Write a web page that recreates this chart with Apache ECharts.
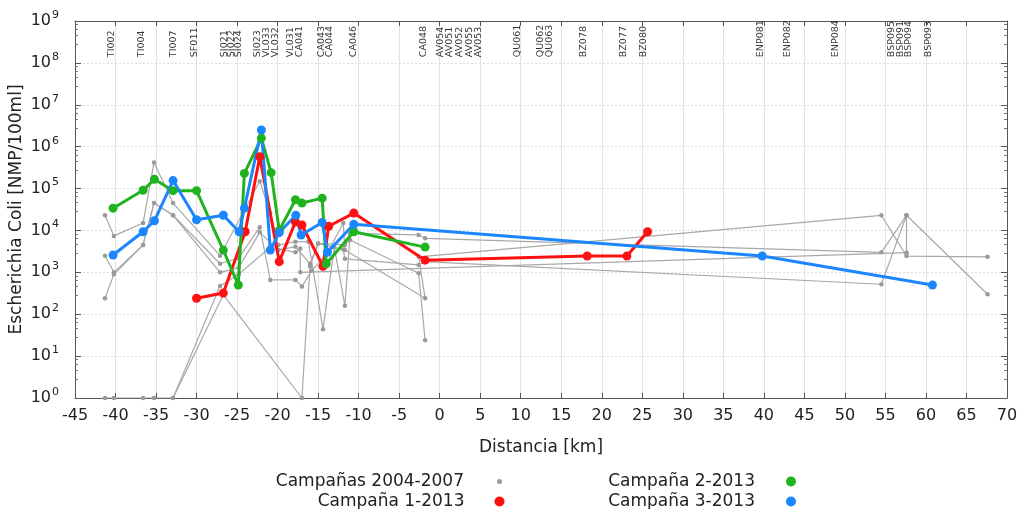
<!DOCTYPE html>
<html>
<head>
<meta charset="utf-8">
<title>Escherichia Coli vs Distancia</title>
<script src="https://cdn.jsdelivr.net/npm/echarts@6/dist/echarts.min.js"></script>
<style>
  html, body { margin: 0; padding: 0; background: #ffffff; }
  #chart { width: 1024px; height: 509px; }
</style>
</head>
<body>
<div id="chart"></div>
<script>
// Sampling stations along the river (km)
const stationNames = ['TI002','TI004','TI007','SF011','SI021','SI022','SI024','SI023','VL033','VL032','VL031','CA041','CA043','CA044','CA046','CA048','AV054','AV051','AV052','AV055','AV053','QU061','QU062','QU063','BZ078','BZ077','BZ080','ENP081','ENP082','ENP084','BSP095','BSP091','BSP094','BSP093'];
const stationKm = [-40.5,-36.8,-32.9,-30.2,-26.6,-25.7,-24.8,-22.5,-21.4,-20.3,-18.4,-17.3,-14.6,-13.6,-10.6,-2.0,0.1,1.2,2.4,3.7,4.8,9.6,12.4,13.6,17.8,22.7,25.2,39.6,42.9,48.8,55.8,56.9,57.9,60.3];

// Historical campaigns 2004-2007: [km, NMP/100ml]
const hist1 = [[-41.3,23000],[-40.2,7400],[-36.6,15000],[-35.25,420000],[-32.9,45000],[-27.1,2500],[-22.2,150000],[-20.9,26000],[-19.9,4500],[-17.8,5400],[-16.2,5400],[-14.4,44],[-13.0,4000],[-11.7,160],[-11.05,8500],[-2.6,7800],[-1.8,6500],[54.5,3000],[57.6,23000],[67.6,300]];
const hist2 = [[-41.3,2500],[-40.2,1000],[-36.6,4500],[-35.25,45000],[-32.9,23000],[-27.1,1600],[-24.8,2200],[-22.2,12000],[-20.9,660],[-17.8,660],[-17.0,460],[-15.8,1100],[-14.0,2600],[-11.9,15000],[-11.7,3400],[-1.8,240],[-2.6,2350],[54.5,23000],[57.6,2450],[67.6,2350]];
const hist3 = [[-41.3,240],[-40.2,900],[-36.6,4500],[-35.25,45000],[-32.9,23000],[-27.1,1000],[-24.8,1300],[-22.2,9000],[-19.9,3400],[-17.8,4100],[-16.0,1600],[-15.0,4900],[-11.7,4500],[-11.05,5900],[-2.6,950],[-1.8,24]];
const hist4 = [[-41.3,1],[-40.2,1],[-36.6,1],[-35.25,1],[-32.9,1],[-27.1,470],[-24.8,900],[-20.9,4000],[-17.8,3000],[-17.2,3700],[-17.2,1000],[57.6,2950]];
const hist5 = [[-32.9,1],[-26.7,290],[-17.0,1],[-16.0,1400],[-15.0,4900],[-11.9,3500],[-11.7,2100],[-2.6,1500],[-1.8,1800],[54.5,520],[57.6,23000],[57.6,2900]];

// 2013 campaigns
const camp1Km = [-30.0,-26.7,-24.0,-22.2,-19.8,-17.8,-17.0,-14.4,-13.7,-10.6,-1.8,18.2,23.1,25.65];
const camp1Val = [240,320,9300,575000,1800,16000,13500,1400,12600,26000,1950,2450,2450,9300];
const camp2Km = [-40.3,-36.6,-35.2,-32.9,-30.0,-26.7,-24.85,-24.1,-22.0,-20.8,-19.8,-17.8,-17.0,-14.5,-14.0,-10.6,-1.8];
const camp2Val = [34000,91000,166000,89000,89000,3400,500,230000,1600000,240000,10000,54000,45000,59000,1600,9300,4000];
const camp3Km = [-40.3,-36.6,-35.2,-32.9,-30.0,-26.7,-24.75,-24.1,-22.0,-20.9,-19.8,-17.75,-17.1,-14.5,-13.85,-10.6,39.8,60.8];
const camp3Val = [2600,9300,17000,155000,18000,23000,9300,34000,2500000,3400,8900,23000,7800,15500,3000,14000,2450,500];

const seriesNames = ['Campañas 2004-2007','Campaña 1-2013','Campaña 2-2013','Campaña 3-2013'];

const FONT = 'DejaVu Sans';
const pairs = (xs, ys) => xs.map((x, i) => [x, ys[i]]);

const histSeries = [hist1, hist2, hist3, hist4, hist5].map(d => ({
  name: seriesNames[0],
  type: 'line',
  data: d,
  symbol: 'circle',
  symbolSize: 4.5,
  itemStyle: { color: '#9a9a9a' },
  lineStyle: { color: '#a8a8a8', width: 1.2 },
  z: 2
}));

function campaign(name, km, val, color) {
  return {
    name: name,
    type: 'line',
    data: pairs(km, val),
    symbol: 'circle',
    symbolSize: 9,
    itemStyle: { color: color },
    lineStyle: { color: color, width: 3 },
    z: 3
  };
}

function legendItem(name, size, right, top, padRight) {
  return {
    data: [name],
    orient: 'vertical',
    align: 'right',
    icon: 'circle',
    itemWidth: size,
    itemHeight: size,
    right: right,
    top: top,
    selectedMode: false,
    textStyle: { fontFamily: FONT, fontSize: 17, color: '#222', padding: [0, padRight, 0, 0] }
  };
}

const option = {
  animation: false,
  backgroundColor: '#ffffff',
  textStyle: { fontFamily: FONT },
  grid: { left: 75, right: 17, top: 21, bottom: 111, containLabel: false, outerBoundsMode: 'none' },
  legend: [
    legendItem(seriesNames[0], 5, 517, 468, 28),
    legendItem(seriesNames[1], 10, 514.5, 488, 25),
    legendItem(seriesNames[2], 10, 223, 468, 26),
    legendItem(seriesNames[3], 10, 223, 488, 26)
  ],
  xAxis: [{
    type: 'value',
    min: -45, max: 70, interval: 5,
    name: 'Distancia [km]',
    nameLocation: 'middle',
    nameGap: 41,
    nameMoveOverlap: false,
    nameTextStyle: { fontFamily: FONT, fontSize: 17, color: '#222' },
    axisLine: { show: true, onZero: false, lineStyle: { color: '#555', width: 1 } },
    axisTick: { show: true, inside: true, length: 5, lineStyle: { color: '#555' } },
    axisLabel: { fontFamily: FONT, fontSize: 16, color: '#222', margin: 10 },
    splitLine: { show: true, lineStyle: { color: '#e2e2e2', width: 1 } }
  }, {
    type: 'value',
    position: 'top',
    min: -45, max: 70, interval: 5,
    axisLine: { show: true, onZero: false, lineStyle: { color: '#555', width: 1 } },
    axisTick: { show: true, inside: true, length: 5, lineStyle: { color: '#555' } },
    axisLabel: { show: false },
    splitLine: { show: false }
  }],
  yAxis: [{
    type: 'log',
    logBase: 10,
    min: 1, max: 1e9,
    name: 'Escherichia Coli [NMP/100ml]',
    nameLocation: 'middle',
    nameGap: 50,
    nameMoveOverlap: false,
    nameRotate: 90,
    nameTextStyle: { fontFamily: FONT, fontSize: 17, color: '#222' },
    axisLine: { show: true, onZero: false, lineStyle: { color: '#555', width: 1 } },
    axisTick: { show: true, inside: true, length: 6, lineStyle: { color: '#555' } },
    minorTick: { show: true, splitNumber: 5, length: 3, lineStyle: { color: '#777' } },
    axisLabel: {
      margin: 16,
      formatter: function (v) {
        const e = Math.round(Math.log10(v));
        return '{b|10}{s|' + e + '}';
      },
      rich: {
        b: { fontFamily: FONT, fontSize: 16, color: '#222' },
        s: { fontFamily: FONT, fontSize: 11, color: '#222', padding: [0, 0, 12, 1] }
      }
    },
    splitLine: { show: true, lineStyle: { color: '#dcdcdc', width: 1, type: [2, 2] } }
  }, {
    type: 'log',
    logBase: 10,
    min: 1, max: 1e9,
    position: 'right',
    axisLine: { show: true, onZero: false, lineStyle: { color: '#555', width: 1 } },
    axisTick: { show: true, inside: true, length: 6, lineStyle: { color: '#555' } },
    minorTick: { show: true, splitNumber: 5, length: 3, lineStyle: { color: '#777' } },
    axisLabel: { show: false },
    splitLine: { show: false }
  }],
  series: [
    // station names written vertically near the top of the plot
    {
      name: 'estaciones',
      type: 'scatter',
      symbolSize: 0,
      silent: true,
      z: 1,
      data: stationKm.map((k, i) => ({ value: [k, 1.37e8], name: stationNames[i] })),
      label: {
        show: true,
        position: 'inside',
        formatter: '{b}',
        rotate: 90,
        align: 'left',
        verticalAlign: 'middle',
        fontFamily: FONT,
        fontSize: 9.5,
        color: '#000'
      }
    },
    ...histSeries,
    campaign(seriesNames[1], camp1Km, camp1Val, '#ff1010'),
    campaign(seriesNames[2], camp2Km, camp2Val, '#1fb41f'),
    campaign(seriesNames[3], camp3Km, camp3Val, '#1a86ff')
  ]
};

const chart = echarts.init(document.getElementById('chart'), null, { renderer: 'canvas' });
chart.setOption(option);
</script>
</body>
</html>
